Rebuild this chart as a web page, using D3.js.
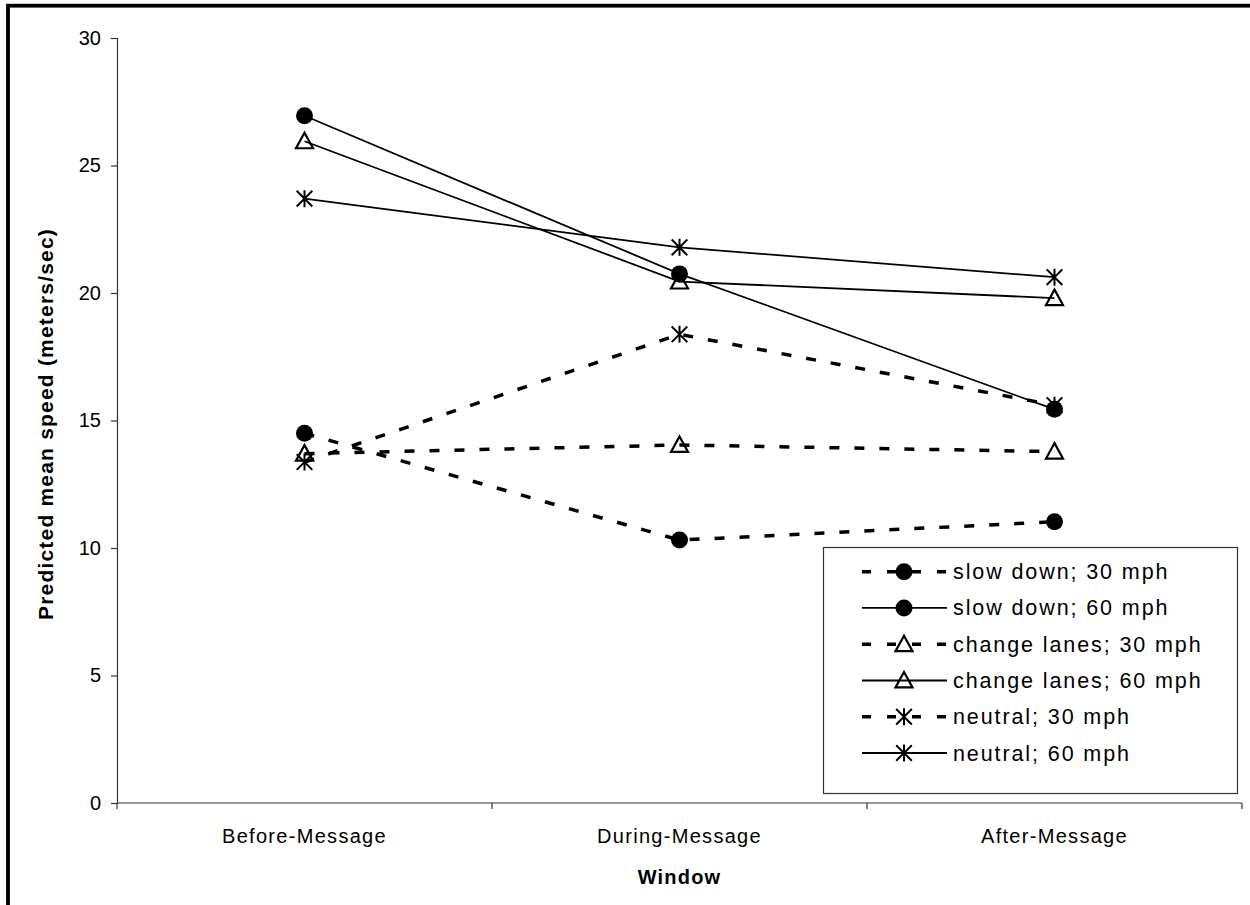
<!DOCTYPE html>
<html>
<head>
<meta charset="utf-8">
<script src="https://cdn.jsdelivr.net/npm/d3@7"></script>
<style>
  html, body { margin: 0; padding: 0; background: #fff; }
  svg { display: block; font-family: Arial, "Liberation Sans", sans-serif; }
</style>
</head>
<body>
<svg id="chart" width="1250" height="905"></svg>
<script>
// Measurement windows on the x axis
const windows = ["Before-Message", "During-Message", "After-Message"];
const yTicks = [0, 5, 10, 15, 20, 25, 30];

// Predicted mean speed (m/s) per message type and speed limit
const slowDown30    = [14.5, 10.31, 11.03];
const slowDown60    = [26.95, 20.75, 15.44];
const changeLanes30 = [13.7, 14.04, 13.78];
const changeLanes60 = [25.95, 20.45, 19.8];
const neutral30     = [13.37, 18.38, 15.6];
const neutral60     = [23.7, 21.79, 20.62];

const seriesNames = ["slow down; 30 mph", "slow down; 60 mph", "change lanes; 30 mph",
                     "change lanes; 60 mph", "neutral; 30 mph", "neutral; 60 mph"];
const seriesValues = [slowDown30, slowDown60, changeLanes30, changeLanes60, neutral30, neutral60];
const seriesMarker = ["circle", "circle", "triangle", "triangle", "asterisk", "asterisk"];
const seriesDashed = [true, false, true, false, true, false];

const series = seriesNames.map((name, i) => ({
  name, values: seriesValues[i], marker: seriesMarker[i], dashed: seriesDashed[i]
}));

const svg = d3.select("#chart");

// frame around the chart area
svg.append("rect")
  .attr("x", 8).attr("y", 5.7).attr("width", 1300).attr("height", 960)
  .attr("fill", "none").attr("stroke", "#000").attr("stroke-width", 3.8);

const plot = { left: 117, right: 1242, top: 38, bottom: 803 };

const x = d3.scaleBand().domain(windows).range([plot.left, plot.right]);
const y = d3.scaleLinear().domain([0, 30]).range([plot.bottom, plot.top]);
const cx = d => x(d) + x.bandwidth() / 2;

const axisColor = "#333";

// y axis
const yAxis = svg.append("g")
  .attr("transform", `translate(${plot.left},0)`)
  .call(d3.axisLeft(y).tickValues(yTicks).tickSize(6).tickPadding(10).tickFormat(d3.format("d")));
yAxis.select(".domain").attr("stroke", axisColor).attr("stroke-width", 1.2);
yAxis.selectAll(".tick line").attr("stroke", axisColor).attr("stroke-width", 1.2);
yAxis.selectAll(".tick text")
  .attr("font-size", 20).attr("fill", "#000")
  .attr("font-family", "Arial, 'Liberation Sans', sans-serif");

// x axis: baseline with ticks at category boundaries
const xAxis = svg.append("g");
xAxis.append("line")
  .attr("x1", plot.left).attr("x2", plot.right)
  .attr("y1", y(0)).attr("y2", y(0))
  .attr("stroke", axisColor).attr("stroke-width", 1.2);
const edges = windows.map(w => x(w)).concat([x(windows[windows.length - 1]) + x.bandwidth()]);
xAxis.selectAll("line.tick")
  .data(edges)
  .join("line")
  .attr("class", "tick")
  .attr("x1", d => d).attr("x2", d => d)
  .attr("y1", y(0)).attr("y2", y(0) + 6)
  .attr("stroke", axisColor).attr("stroke-width", 1.2);
xAxis.selectAll("text")
  .data(windows)
  .join("text")
  .attr("x", d => cx(d))
  .attr("y", y(0) + 40)
  .attr("text-anchor", "middle")
  .attr("font-size", 20)
  .attr("letter-spacing", 1.3)
  .text(d => d);

// axis titles
svg.append("text")
  .attr("x", (plot.left + plot.right) / 2)
  .attr("y", 884)
  .attr("text-anchor", "middle")
  .attr("font-size", 20).attr("font-weight", "bold")
  .attr("letter-spacing", 1.2)
  .text("Window");

svg.append("text")
  .attr("transform", "translate(53,424) rotate(-90)")
  .attr("text-anchor", "middle")
  .attr("font-size", 21).attr("font-weight", "bold")
  .attr("letter-spacing", 1.2)
  .text("Predicted mean speed (meters/sec)");

// marker drawing
function drawMarker(g, type, px, py) {
  if (type === "circle") {
    g.append("circle").attr("cx", px).attr("cy", py).attr("r", 8.5).attr("fill", "#000");
  } else if (type === "triangle") {
    const s = 8.5;
    g.append("path")
      .attr("d", `M${px},${py - s} L${px + s},${py + s * 0.82} L${px - s},${py + s * 0.82} Z`)
      .attr("fill", "none").attr("stroke", "#000").attr("stroke-width", 2.2)
      .attr("stroke-linejoin", "miter");
  } else {
    const s = 8.5, d = 8.5 * 0.92;
    g.append("path")
      .attr("d", `M${px},${py - s} L${px},${py + s} M${px - d},${py - d} L${px + d},${py + d} M${px - d},${py + d} L${px + d},${py - d}`)
      .attr("stroke", "#000").attr("stroke-width", 2).attr("fill", "none");
  }
}

const line = d3.line().x((d, i) => cx(windows[i])).y(d => y(d));

const seriesG = svg.append("g");
series.forEach(s => {
  const g = seriesG.append("g");
  g.append("path")
    .attr("d", line(s.values))
    .attr("fill", "none")
    .attr("stroke", "#000")
    .attr("stroke-width", s.dashed ? 3.5 : 1.8)
    .attr("stroke-dasharray", s.dashed ? "10,15" : null);
  s.values.forEach((v, i) => drawMarker(g, s.marker, cx(windows[i]), y(v)));
});

// legend
const legend = { x: 823, y: 547, w: 414, h: 246 };
const lg = svg.append("g");
lg.append("rect")
  .attr("x", legend.x + 0.5).attr("y", legend.y + 0.5)
  .attr("width", legend.w).attr("height", legend.h)
  .attr("fill", "#fff").attr("stroke", "#333").attr("stroke-width", 1.2);

const rowY = d3.scalePoint().domain(seriesNames).range([571.7, 753]);
series.forEach(s => {
  const ry = rowY(s.name);
  const g = lg.append("g");
  g.append("line")
    .attr("x1", 862).attr("x2", 947).attr("y1", ry).attr("y2", ry)
    .attr("stroke", "#000")
    .attr("stroke-width", s.dashed ? 3.5 : 1.8)
    .attr("stroke-dasharray", s.dashed ? "9,16" : null);
  drawMarker(g, s.marker, 904, ry);
  g.append("text")
    .attr("x", 953).attr("y", ry + 7.5)
    .attr("font-size", 21.5)
    .attr("letter-spacing", 1.9)
    .text(s.name);
});
</script>
</body>
</html>
